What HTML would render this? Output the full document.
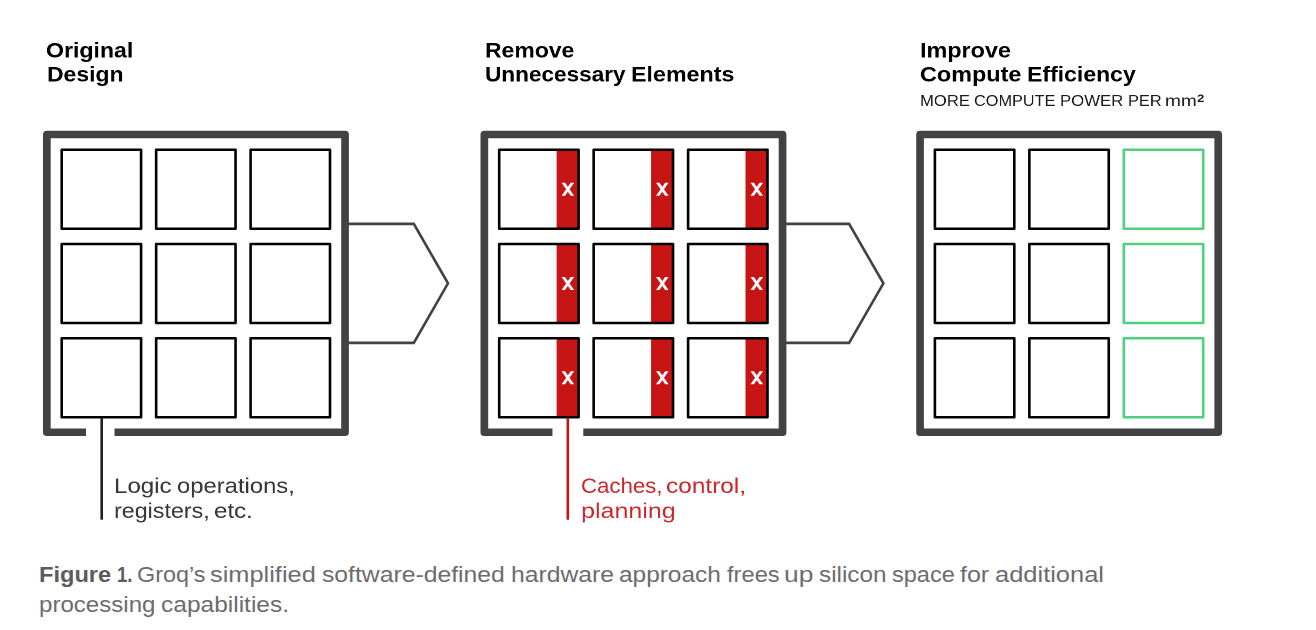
<!DOCTYPE html>
<html><head><meta charset="utf-8"><style>
html,body{margin:0;padding:0;background:#fff;width:1316px;height:630px;overflow:hidden}
.t{position:absolute;white-space:nowrap;line-height:1;font-family:"Liberation Sans",sans-serif;transform-origin:0 0} sup{font-size:0.68em;font-weight:700;vertical-align:0;position:relative;top:-0.35em;margin-left:0.02em}
</style></head><body>
<svg width="1316" height="630" viewBox="0 0 1316 630" style="position:absolute;left:0;top:0"><path d="M86.00,432.25 H46.85 V134.50 H345.05 V432.25 H114.50" fill="none" stroke="#424242" stroke-width="7.7" stroke-linejoin="round"/><path d="M552.45,432.25 H484.35 V134.50 H782.55 V432.25 H583.30" fill="none" stroke="#424242" stroke-width="7.7" stroke-linejoin="round"/><path d="M920.05,432.25 V134.50 H1218.25 V432.25 Z" fill="none" stroke="#424242" stroke-width="7.7" stroke-linejoin="round"/><rect x="61.70" y="149.70" width="79.40" height="79.00" fill="none" stroke="#000" stroke-width="2.6" stroke-linejoin="round"/><rect x="156.15" y="149.70" width="79.40" height="79.00" fill="none" stroke="#000" stroke-width="2.6" stroke-linejoin="round"/><rect x="250.60" y="149.70" width="79.40" height="79.00" fill="none" stroke="#000" stroke-width="2.6" stroke-linejoin="round"/><rect x="61.70" y="244.00" width="79.40" height="79.00" fill="none" stroke="#000" stroke-width="2.6" stroke-linejoin="round"/><rect x="156.15" y="244.00" width="79.40" height="79.00" fill="none" stroke="#000" stroke-width="2.6" stroke-linejoin="round"/><rect x="250.60" y="244.00" width="79.40" height="79.00" fill="none" stroke="#000" stroke-width="2.6" stroke-linejoin="round"/><rect x="61.70" y="338.30" width="79.40" height="79.00" fill="none" stroke="#000" stroke-width="2.6" stroke-linejoin="round"/><rect x="156.15" y="338.30" width="79.40" height="79.00" fill="none" stroke="#000" stroke-width="2.6" stroke-linejoin="round"/><rect x="250.60" y="338.30" width="79.40" height="79.00" fill="none" stroke="#000" stroke-width="2.6" stroke-linejoin="round"/><rect x="556.60" y="149.70" width="22.00" height="79.00" fill="#c71515"/><rect x="499.20" y="149.70" width="79.40" height="79.00" fill="none" stroke="#000" stroke-width="2.6" stroke-linejoin="round"/><polygon points="561.60,182.70 565.00,182.70 567.85,186.77 570.70,182.70 574.10,182.70 569.55,189.20 574.10,195.70 570.70,195.70 567.85,191.63 565.00,195.70 561.60,195.70 566.15,189.20" fill="#fff"/><rect x="651.05" y="149.70" width="22.00" height="79.00" fill="#c71515"/><rect x="593.65" y="149.70" width="79.40" height="79.00" fill="none" stroke="#000" stroke-width="2.6" stroke-linejoin="round"/><polygon points="656.05,182.70 659.45,182.70 662.30,186.77 665.15,182.70 668.55,182.70 664.00,189.20 668.55,195.70 665.15,195.70 662.30,191.63 659.45,195.70 656.05,195.70 660.60,189.20" fill="#fff"/><rect x="745.50" y="149.70" width="22.00" height="79.00" fill="#c71515"/><rect x="688.10" y="149.70" width="79.40" height="79.00" fill="none" stroke="#000" stroke-width="2.6" stroke-linejoin="round"/><polygon points="750.50,182.70 753.90,182.70 756.75,186.77 759.60,182.70 763.00,182.70 758.45,189.20 763.00,195.70 759.60,195.70 756.75,191.63 753.90,195.70 750.50,195.70 755.05,189.20" fill="#fff"/><rect x="556.60" y="244.00" width="22.00" height="79.00" fill="#c71515"/><rect x="499.20" y="244.00" width="79.40" height="79.00" fill="none" stroke="#000" stroke-width="2.6" stroke-linejoin="round"/><polygon points="561.60,277.00 565.00,277.00 567.85,281.07 570.70,277.00 574.10,277.00 569.55,283.50 574.10,290.00 570.70,290.00 567.85,285.93 565.00,290.00 561.60,290.00 566.15,283.50" fill="#fff"/><rect x="651.05" y="244.00" width="22.00" height="79.00" fill="#c71515"/><rect x="593.65" y="244.00" width="79.40" height="79.00" fill="none" stroke="#000" stroke-width="2.6" stroke-linejoin="round"/><polygon points="656.05,277.00 659.45,277.00 662.30,281.07 665.15,277.00 668.55,277.00 664.00,283.50 668.55,290.00 665.15,290.00 662.30,285.93 659.45,290.00 656.05,290.00 660.60,283.50" fill="#fff"/><rect x="745.50" y="244.00" width="22.00" height="79.00" fill="#c71515"/><rect x="688.10" y="244.00" width="79.40" height="79.00" fill="none" stroke="#000" stroke-width="2.6" stroke-linejoin="round"/><polygon points="750.50,277.00 753.90,277.00 756.75,281.07 759.60,277.00 763.00,277.00 758.45,283.50 763.00,290.00 759.60,290.00 756.75,285.93 753.90,290.00 750.50,290.00 755.05,283.50" fill="#fff"/><rect x="556.60" y="338.30" width="22.00" height="79.00" fill="#c71515"/><rect x="499.20" y="338.30" width="79.40" height="79.00" fill="none" stroke="#000" stroke-width="2.6" stroke-linejoin="round"/><polygon points="561.60,371.30 565.00,371.30 567.85,375.37 570.70,371.30 574.10,371.30 569.55,377.80 574.10,384.30 570.70,384.30 567.85,380.23 565.00,384.30 561.60,384.30 566.15,377.80" fill="#fff"/><rect x="651.05" y="338.30" width="22.00" height="79.00" fill="#c71515"/><rect x="593.65" y="338.30" width="79.40" height="79.00" fill="none" stroke="#000" stroke-width="2.6" stroke-linejoin="round"/><polygon points="656.05,371.30 659.45,371.30 662.30,375.37 665.15,371.30 668.55,371.30 664.00,377.80 668.55,384.30 665.15,384.30 662.30,380.23 659.45,384.30 656.05,384.30 660.60,377.80" fill="#fff"/><rect x="745.50" y="338.30" width="22.00" height="79.00" fill="#c71515"/><rect x="688.10" y="338.30" width="79.40" height="79.00" fill="none" stroke="#000" stroke-width="2.6" stroke-linejoin="round"/><polygon points="750.50,371.30 753.90,371.30 756.75,375.37 759.60,371.30 763.00,371.30 758.45,377.80 763.00,384.30 759.60,384.30 756.75,380.23 753.90,384.30 750.50,384.30 755.05,377.80" fill="#fff"/><rect x="934.90" y="149.70" width="79.40" height="79.00" fill="none" stroke="#000" stroke-width="2.6" stroke-linejoin="round"/><rect x="1029.35" y="149.70" width="79.40" height="79.00" fill="none" stroke="#000" stroke-width="2.6" stroke-linejoin="round"/><rect x="1123.80" y="149.70" width="79.40" height="79.00" fill="none" stroke="#50d080" stroke-width="2.6" stroke-linejoin="round"/><rect x="934.90" y="244.00" width="79.40" height="79.00" fill="none" stroke="#000" stroke-width="2.6" stroke-linejoin="round"/><rect x="1029.35" y="244.00" width="79.40" height="79.00" fill="none" stroke="#000" stroke-width="2.6" stroke-linejoin="round"/><rect x="1123.80" y="244.00" width="79.40" height="79.00" fill="none" stroke="#50d080" stroke-width="2.6" stroke-linejoin="round"/><rect x="934.90" y="338.30" width="79.40" height="79.00" fill="none" stroke="#000" stroke-width="2.6" stroke-linejoin="round"/><rect x="1029.35" y="338.30" width="79.40" height="79.00" fill="none" stroke="#000" stroke-width="2.6" stroke-linejoin="round"/><rect x="1123.80" y="338.30" width="79.40" height="79.00" fill="none" stroke="#50d080" stroke-width="2.6" stroke-linejoin="round"/><polyline points="345.0,223.85 413.8,223.85 448.0,283.35 413.8,342.85 345.0,342.85" fill="none" stroke="#424242" stroke-width="2.6" stroke-linejoin="miter"/><polyline points="782.6,223.85 849.1,223.85 883.4,283.35 849.1,342.85 782.6,342.85" fill="none" stroke="#424242" stroke-width="2.6" stroke-linejoin="miter"/><line x1="101.7" y1="418" x2="101.7" y2="519.7" stroke="#231f20" stroke-width="2.6"/><line x1="567.8" y1="418" x2="567.8" y2="519.7" stroke="#c71515" stroke-width="2.6"/></svg>
<div class='t' style='left:46.43px;top:39.60px;font-size:42.40px;font-weight:700;color:#000;transform:scale(0.54473,0.50000);will-change:transform'>Original</div><div class='t' style='left:46.77px;top:64.40px;font-size:42.40px;font-weight:700;color:#000;transform:scale(0.54152,0.50000);will-change:transform'>Design</div><div class='t' style='left:484.57px;top:39.70px;font-size:42.40px;font-weight:700;color:#000;transform:scale(0.54156,0.50000);will-change:transform'>Remove</div><div class='t' style='left:484.74px;top:64.40px;font-size:42.40px;font-weight:700;color:#000;transform:scale(0.53250,0.50000);will-change:transform'>Unnecessary</div><div class='t' style='left:631.05px;top:64.40px;font-size:42.40px;font-weight:700;color:#000;transform:scale(0.54832,0.50000);will-change:transform'>Elements</div><div class='t' style='left:919.74px;top:39.70px;font-size:42.40px;font-weight:700;color:#000;transform:scale(0.55153,0.50000);will-change:transform'>Improve</div><div class='t' style='left:919.98px;top:64.40px;font-size:42.40px;font-weight:700;color:#000;transform:scale(0.55210,0.50000);will-change:transform'>Compute</div><div class='t' style='left:1026.86px;top:64.40px;font-size:42.40px;font-weight:700;color:#000;transform:scale(0.54297,0.50000);will-change:transform'>Efficiency</div><div class='t' style='left:919.73px;top:92.88px;font-size:31.60px;font-weight:400;color:#1a1a1a;transform:scale(0.52611,0.50000);will-change:transform'>MORE</div><div class='t' style='left:974.05px;top:92.88px;font-size:31.60px;font-weight:400;color:#1a1a1a;transform:scale(0.51531,0.50000);will-change:transform'>COMPUTE</div><div class='t' style='left:1060.49px;top:92.88px;font-size:31.60px;font-weight:400;color:#1a1a1a;transform:scale(0.53018,0.50000);will-change:transform'>POWER</div><div class='t' style='left:1127.60px;top:92.88px;font-size:31.60px;font-weight:400;color:#1a1a1a;transform:scale(0.51737,0.50000);will-change:transform'>PER</div><div class='t' style='left:1164.54px;top:92.88px;font-size:31.60px;font-weight:400;color:#1a1a1a;transform:scale(0.60465,0.50000);will-change:transform'>mm<sup>2</sup></div><div class='t' style='left:114.08px;top:474.80px;font-size:43.00px;font-weight:400;color:#383536;transform:scale(0.56015,0.50000);will-change:transform'>Logic</div><div class='t' style='left:176.69px;top:474.80px;font-size:43.00px;font-weight:400;color:#383536;transform:scale(0.55365,0.50000);will-change:transform'>operations,</div><div class='t' style='left:114.02px;top:499.80px;font-size:43.00px;font-weight:400;color:#383536;transform:scale(0.54093,0.50000);will-change:transform'>registers,</div><div class='t' style='left:214.27px;top:499.80px;font-size:43.00px;font-weight:400;color:#383536;transform:scale(0.56109,0.50000);will-change:transform'>etc.</div><div class='t' style='left:580.55px;top:474.80px;font-size:43.00px;font-weight:400;color:#cd252c;transform:scale(0.51649,0.50000);will-change:transform'>Caches,</div><div class='t' style='left:666.08px;top:474.80px;font-size:43.00px;font-weight:400;color:#cd252c;transform:scale(0.56758,0.50000);will-change:transform'>control,</div><div class='t' style='left:580.93px;top:499.80px;font-size:43.00px;font-weight:400;color:#cd252c;transform:scale(0.58250,0.50000);will-change:transform'>planning</div><div class='t' style='left:39.27px;top:564.10px;font-size:22px;font-weight:700;color:#5c5c5c;transform:scaleX(1.0741)'>Figure</div><div class='t' style='left:116.99px;top:564.10px;font-size:22px;font-weight:700;color:#5c5c5c;transform:scaleX(0.8442)'>1.</div><div class='t' style='left:137.47px;top:563.74px;font-size:22px;font-weight:400;color:#6c6c6c;transform:scaleX(1.0626)'>Groq&#8217;s</div><div class='t' style='left:210.32px;top:563.74px;font-size:22px;font-weight:400;color:#6c6c6c;transform:scaleX(1.1538)'>simplified</div><div class='t' style='left:321.65px;top:563.74px;font-size:22px;font-weight:400;color:#6c6c6c;transform:scaleX(1.1238)'>software-defined</div><div class='t' style='left:510.93px;top:563.74px;font-size:22px;font-weight:400;color:#6c6c6c;transform:scaleX(1.1225)'>hardware</div><div class='t' style='left:619.10px;top:563.74px;font-size:22px;font-weight:400;color:#6c6c6c;transform:scaleX(1.1095)'>approach</div><div class='t' style='left:726.73px;top:563.74px;font-size:22px;font-weight:400;color:#6c6c6c;transform:scaleX(1.0765)'>frees</div><div class='t' style='left:784.31px;top:563.74px;font-size:22px;font-weight:400;color:#6c6c6c;transform:scaleX(1.1973)'>up</div><div class='t' style='left:818.77px;top:563.74px;font-size:22px;font-weight:400;color:#6c6c6c;transform:scaleX(1.1023)'>silicon</div><div class='t' style='left:892.40px;top:563.74px;font-size:22px;font-weight:400;color:#6c6c6c;transform:scaleX(1.0704)'>space</div><div class='t' style='left:959.59px;top:563.74px;font-size:22px;font-weight:400;color:#6c6c6c;transform:scaleX(1.1363)'>for</div><div class='t' style='left:994.95px;top:563.74px;font-size:22px;font-weight:400;color:#6c6c6c;transform:scaleX(1.1572)'>additional</div><div class='t' style='left:38.89px;top:593.94px;font-size:22px;font-weight:400;color:#6c6c6c;transform:scaleX(1.0950)'>processing</div><div class='t' style='left:161.20px;top:593.94px;font-size:22px;font-weight:400;color:#6c6c6c;transform:scaleX(1.1137)'>capabilities.</div>
</body></html>
